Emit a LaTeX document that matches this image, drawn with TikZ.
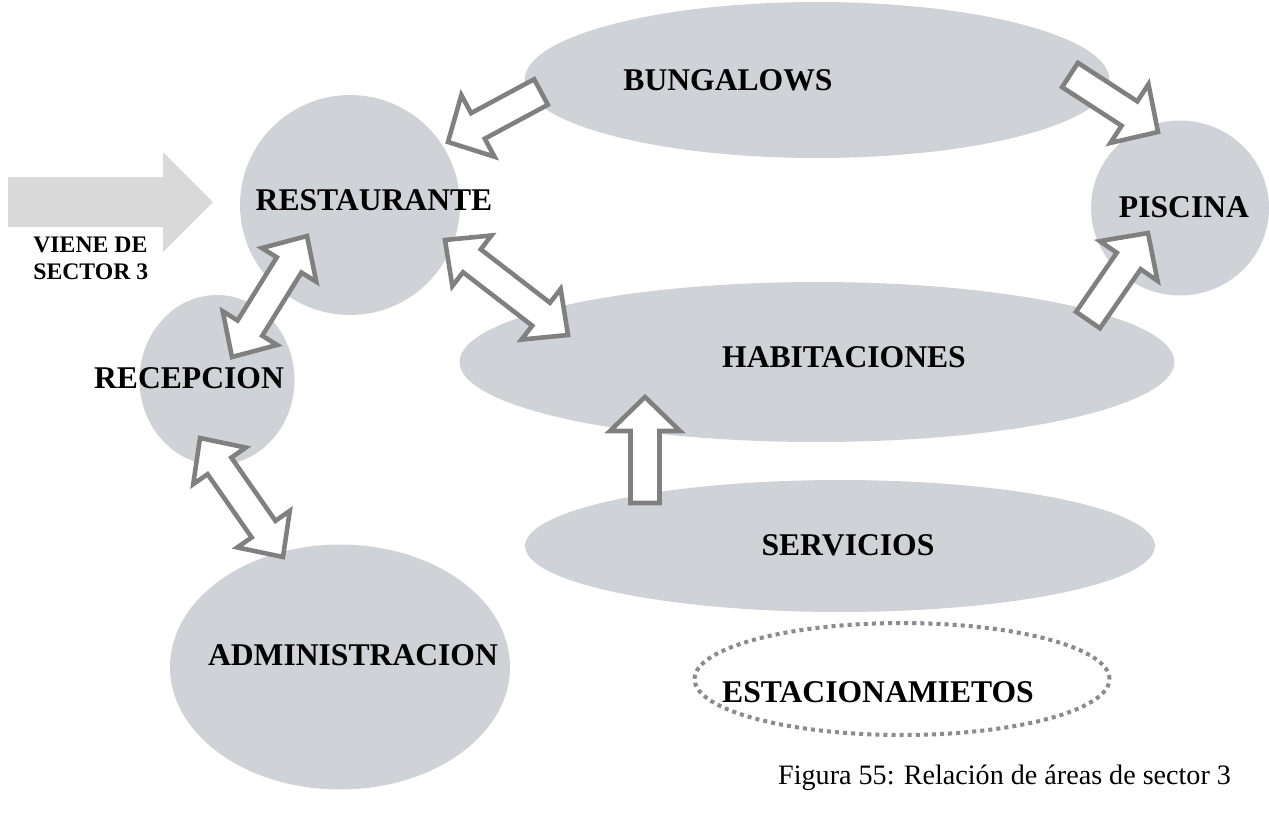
\documentclass[tikz,border=0pt]{standalone}
\usepackage{fontspec}
\setmainfont{Liberation Serif}
\usetikzlibrary{shapes.geometric,calc}

\definecolor{areagray}{RGB}{207,210,214}
\definecolor{arrowgray}{RGB}{128,128,128}
\definecolor{entrygray}{RGB}{217,217,217}
\definecolor{dotgray}{RGB}{140,140,140}

\tikzset{
  area/.style={ellipse, fill=areagray, inner sep=0pt},
  lbl/.style={font=\fontsize{18}{20}\selectfont\bfseries},
  blockarrow/.style={draw=arrowgray, fill=white, line width=2.6pt, line join=miter}
}

% one-headed block arrow from #1 (tail) to #2 (tip)
\newcommand{\onearrow}[2]{%
  \coordinate (#1-#2-h) at ($(#2)!0.68cm!(#1)$);
  \draw[blockarrow] ($(#1)!0.29cm!90:(#2)$) -- ($(#1-#2-h)!0.29cm!90:(#2)$)
    -- ($(#1-#2-h)!0.7cm!90:(#2)$) -- (#2)
    -- ($(#1-#2-h)!0.7cm!-90:(#2)$) -- ($(#1-#2-h)!0.29cm!-90:(#2)$)
    -- ($(#1)!0.29cm!-90:(#2)$) -- cycle;}
% two-headed block arrow between #1 and #2
\newcommand{\twoarrow}[2]{%
  \coordinate (#1-#2-a) at ($(#1)!0.68cm!(#2)$);
  \coordinate (#1-#2-b) at ($(#2)!0.68cm!(#1)$);
  \draw[blockarrow] (#1) -- ($(#1-#2-a)!0.64cm!90:(#2)$) -- ($(#1-#2-a)!0.29cm!90:(#2)$)
    -- ($(#1-#2-b)!0.29cm!90:(#2)$) -- ($(#1-#2-b)!0.64cm!90:(#2)$) -- (#2)
    -- ($(#1-#2-b)!0.64cm!-90:(#2)$) -- ($(#1-#2-b)!0.29cm!-90:(#2)$)
    -- ($(#1-#2-a)!0.29cm!-90:(#2)$) -- ($(#1-#2-a)!0.64cm!-90:(#2)$) -- cycle;}

\begin{document}
\begin{tikzpicture}[x=0.02cm, y=-0.02cm]
  \useasboundingbox (0,0) rectangle (1269,816);

  % entry arrow
  \fill[entrygray] (8,177) -- (163,177) -- (163,152) -- (213,202)
    -- (163,252) -- (163,227) -- (8,227) -- cycle;
  \node[font=\fontsize{13.5}{15.3}\selectfont\bfseries, align=left, anchor=north west, inner sep=0pt]
    (entry) at (33,237) {VIENE DE\\SECTOR 3};

  % areas
  \node[area, minimum width=4.4cm, minimum height=4.4cm] (rest) at (350,205) {};
  \node[area, minimum width=11.7cm, minimum height=3.12cm] (bung) at (817,80) {};
  \node[area, minimum width=3.56cm, minimum height=3.5cm] (pisc) at (1180,208) {};
  \node[area, minimum width=14.3cm, minimum height=3.2cm] (habit) at (817,362) {};
  \node[area, minimum width=3.1cm, minimum height=3.4cm] (recep) at (217,380) {};
  \node[area, minimum width=12.6cm, minimum height=2.64cm] (serv) at (840,546) {};
  \node[area, minimum width=6.8cm, minimum height=4.9cm] (admin) at (340,667) {};
  \node[ellipse, draw=dotgray, line width=2.3pt, dash pattern=on 2.3pt off 2.3pt,
    minimum width=8.3cm, minimum height=2.24cm] (estac) at (902,679) {};

  \node[lbl] (rest-t) at (374,200) {RESTAURANTE};
  \node[lbl] (bung-t) at (728,80) {BUNGALOWS};
  \node[lbl] (pisc-t) at (1184,207) {PISCINA};
  \node[lbl] (habit-t) at (844,357) {HABITACIONES};
  \node[lbl] (recep-t) at (189,378) {RECEPCION};
  \node[lbl] (serv-t) at (848,545) {SERVICIOS};
  \node[lbl] (admin-t) at (353,655) {ADMINISTRACION};
  \node[lbl] (estac-t) at (878,692) {ESTACIONAMIETOS};

  % relations
  \coordinate (br-s) at (541,92);   \coordinate (br-t) at (448,142);
  \coordinate (bp-s) at (1070,75);  \coordinate (bp-t) at (1158,132);
  \coordinate (hp-s) at (1088,320); \coordinate (hp-t) at (1148,233);
  \coordinate (sh-s) at (645,503);  \coordinate (sh-t) at (645,397);
  \coordinate (rr-a) at (307,236);  \coordinate (rr-b) at (232,357);
  \coordinate (rh-a) at (445,240);  \coordinate (rh-b) at (568,335);
  \coordinate (ra-a) at (200,438);  \coordinate (ra-b) at (283,557);
  \onearrow{br-s}{br-t}
  \onearrow{bp-s}{bp-t}
  \onearrow{hp-s}{hp-t}
  \onearrow{sh-s}{sh-t}
  \twoarrow{rr-a}{rr-b}
  \twoarrow{rh-a}{rh-b}
  \twoarrow{ra-a}{ra-b}

  \node[font=\fontsize{16}{19}\selectfont, anchor=base west] (caption) at (772,784)
    {Figura 55: Relación de áreas de sector 3};
\end{tikzpicture}
\end{document}
